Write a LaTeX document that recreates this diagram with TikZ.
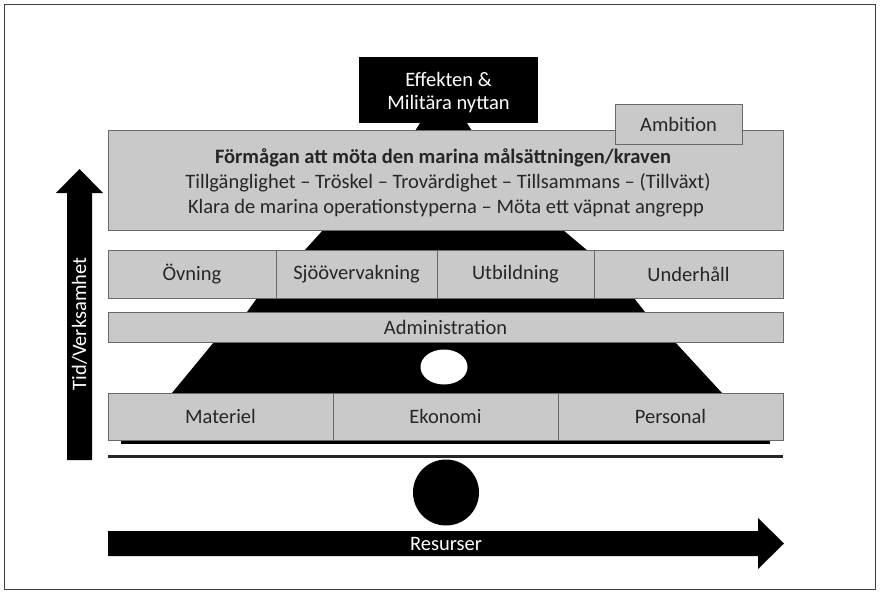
\documentclass[tikz,border=0pt]{standalone}
\usepackage{fontspec}
\setmainfont{Carlito}
\usetikzlibrary{shapes.geometric}
\definecolor{boxgray}{RGB}{201,201,201}
\definecolor{edgegray}{RGB}{105,105,105}
\definecolor{txt}{RGB}{38,38,38}
\begin{document}
\begin{tikzpicture}[x=1pt,y=-1pt,
  fnt/.style={font=\fontsize{20.5}{23}\selectfont},
  bfnt/.style={font=\fontsize{20.5}{23}\selectfont\bfseries},
  box/.style={draw=edgegray, fill=boxgray, line width=0.9pt, inner sep=0pt, text=txt, fnt},
  darkbox/.style={fill=black, inner sep=0pt},
  blk/.style={fill=black}]
\useasboundingbox (0,0) rectangle (880,594);
\draw[line width=1.1pt, black!75] (4.5,4.5) rectangle (875.5,589.5);

% black trapezoids behind the boxes
\fill[blk] (420,123) -- (467,123) -- (472,131) -- (415,131) -- cycle;
\fill[blk] (323,230) -- (563,230) -- (588,251) -- (304,251) -- cycle;
\fill[blk] (257,298) -- (634,298) -- (645,312) -- (247,312) -- cycle;
\fill[blk] (214,342) -- (675,342) -- (722,393) -- (172,393) -- cycle;
\node (hole) [ellipse, fill=white, minimum width=47, minimum height=35, inner sep=0pt] at (444,367) {};

% top effect box
\node (eff) [darkbox, minimum width=179, minimum height=66] at (448.5,90) {};
\node (efftxt) [text=white, align=center, fnt] at (448.5,93) {Effekten \&\\Militära nyttan};

% main box
\node (main) [box, minimum width=675, minimum height=100] at (445.5,180.5) {};
\node (l1) at (443,158) [text=txt, bfnt] {Förmågan att möta den marina målsättningen/kraven};
\node (l2) at (448,183) [text=txt, fnt] {Tillgänglighet – Tröskel – Trovärdighet – Tillsammans – (Tillväxt)};
\node (l3) at (446,208.5) [text=txt, fnt] {Klara de marina operationstyperna – Möta ett väpnat angrepp};
\node (amb) [box, minimum width=127, minimum height=40] at (678.5,124) {Ambition};

% activity row
\node (ov) [box, minimum width=168, minimum height=48] at (192,274.5) {Övning};
\node (sj) [box, minimum width=161, minimum height=48] at (356.5,274.5) {Sjöövervakning};
\node (ut) [box, minimum width=157, minimum height=48] at (515.5,274.5) {Utbildning};
\node (un) [box, minimum width=189, minimum height=48] at (688.5,274.5) {Underhåll};

% administration
\node (adm) [box, minimum width=675, minimum height=30] at (445.5,327) {Administration};

% base row
\node[blk, minimum width=649, minimum height=4, inner sep=0pt] (shadow) at (445.5,441.5) {};
\node (mat) [box, minimum width=225, minimum height=47] at (220.5,416.5) {Materiel};
\node (eko) [box, minimum width=225, minimum height=47] at (445.5,416.5) {Ekonomi};
\node (per) [box, minimum width=225, minimum height=47] at (670.5,416.5) {Personal};

% ground line and fulcrum
\draw[line width=2.6pt, black!85] (108,456.5) -- (783,456.5);
\node (ball) [circle, fill=black, minimum size=66, inner sep=0pt] at (446,492.5) {};

% resources arrow
\fill[blk] (108,531) -- (758,531) -- (758,518) -- (784,543.5) -- (758,569) -- (758,556) -- (108,556) -- cycle;
\node (res) [text=white, fnt] at (446,544) {Resurser};

% time/activity arrow
\fill[blk] (67,460) -- (67,193) -- (56,193) -- (79.5,169) -- (103,193) -- (92,193) -- (92,460) -- cycle;
\node (tid) [text=white, rotate=90, fnt] at (79.5,324) {Tid/Verksamhet};
\end{tikzpicture}
\end{document}
